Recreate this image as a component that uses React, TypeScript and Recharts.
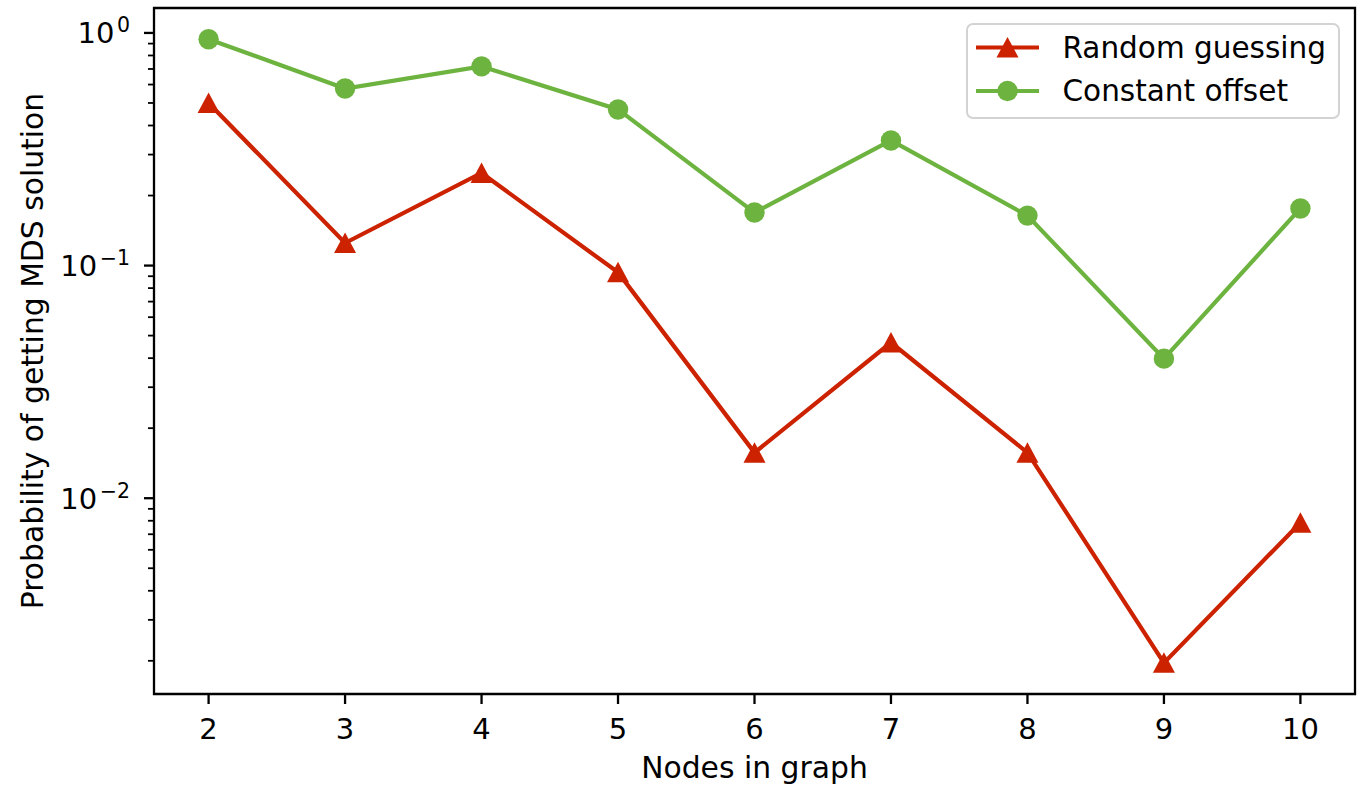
import React from 'react';
import { LineChart, Line, XAxis, YAxis, ReferenceArea, Legend } from 'recharts';

// values
const nodes = [2, 3, 4, 5, 6, 7, 8, 9, 10];
const randomGuessing = [0.5, 0.125, 0.25, 0.0935, 0.0157, 0.0467, 0.0157, 0.00196, 0.00785];
const constantOffset = [0.94, 0.577, 0.718, 0.469, 0.169, 0.345, 0.164, 0.0398, 0.176];

const xTicks = [2, 3, 4, 5, 6, 7, 8, 9, 10];
const yMajorTicks = [0.01, 0.1, 1];
const yMinorTicks = [
  0.002, 0.003, 0.004, 0.005, 0.006, 0.007, 0.008, 0.009,
  0.02, 0.03, 0.04, 0.05, 0.06, 0.07, 0.08, 0.09,
  0.2, 0.3, 0.4, 0.5, 0.6, 0.7, 0.8, 0.9,
];
const xDomain = [1.6, 10.4];
const yDomain = [0.00144, 1.28];

const RED = '#cc2200';
const GREEN = '#6db33f';
const FONT = '"DejaVu Sans", sans-serif';
const legendOrder = ['random', 'offset'];

const data = nodes.map((n, i) => ({
  nodes: n,
  random: randomGuessing[i],
  offset: constantOffset[i],
}));

const triangle = (cx: number, cy: number, color: string, key?: any) => (
  <polygon
    key={key}
    points={`${cx},${cy - 10.5} ${cx - 11},${cy + 10} ${cx + 11},${cy + 10}`}
    fill={color}
  />
);

const TriangleDot = (props: any) => {
  const { cx, cy, index } = props;
  if (cx == null || cy == null) return <g key={`t-${index}`} />;
  return triangle(cx, cy, RED, `t-${index}`);
};

const CircleDot = (props: any) => {
  const { cx, cy, index } = props;
  if (cx == null || cy == null) return <g key={`c-${index}`} />;
  return <circle key={`c-${index}`} cx={cx} cy={cy} r={10.2} fill={GREEN} />;
};

const YTick = (props: any) => {
  const { x, y, payload } = props;
  const v = payload.value;
  const major = yMajorTicks.includes(v);
  if (!major) {
    return <line x1={x - 6} x2={x} y1={y} y2={y} stroke="#000" strokeWidth={1.8} />;
  }
  const exp = Math.round(Math.log10(v));
  const sup = exp < 0 ? `\u2212${-exp}` : `${exp}`;
  return (
    <g>
      <line x1={x - 10} x2={x} y1={y} y2={y} stroke="#000" strokeWidth={2.3} />
      <text x={x - 24} y={y + 10.5} textAnchor="end" fontSize={29} fontFamily={FONT} fill="#000">
        <tspan>10</tspan>
        <tspan dx={2.5} dy={-11} fontSize={20.5}>{sup}</tspan>
      </text>
    </g>
  );
};

const XTick = (props: any) => {
  const { x, y, payload } = props;
  return (
    <g>
      <line x1={x} x2={x} y1={y} y2={y + 10} stroke="#000" strokeWidth={2.3} />
      <text x={x} y={y + 45} textAnchor="middle" fontSize={29} fontFamily={FONT} fill="#000">
        {payload.value}
      </text>
    </g>
  );
};

const LegendBox = (props: any) => {
  const items = [...(props.payload || [])].sort(
    (a: any, b: any) => legendOrder.indexOf(a.dataKey) - legendOrder.indexOf(b.dataKey)
  );
  return (
    <svg width={374} height={96} style={{ display: 'block' }}>
      <rect x={1} y={1} width={372} height={94} rx={6} ry={6} fill="#fff" stroke="#d3d3d3" strokeWidth={2} />
      {items.map((item: any, i: number) => {
        const cy = 24.5 + i * 43.5;
        const color = item.color;
        return (
          <g key={item.value}>
            <line x1={10} x2={73} y1={cy} y2={cy} stroke={color} strokeWidth={4.2} />
            {item.dataKey === 'random'
              ? triangle(41.5, cy, color)
              : <circle cx={41.5} cy={cy} r={10.2} fill={color} />}
            <text x={96.5} y={cy + 10} fontSize={29.5} fontFamily={FONT} fill="#000">
              {item.value}
            </text>
          </g>
        );
      })}
    </svg>
  );
};

export default function App() {
  return (
    <div style={{ position: 'absolute', left: 0, top: 0, width: 1367, height: 786, background: '#fff' }}>
      <LineChart
        width={1367}
        height={786}
        data={data}
        margin={{ top: 8, right: 12, bottom: 0, left: 0 }}
      >
        <XAxis
          dataKey="nodes"
          type="number"
          domain={xDomain}
          allowDataOverflow
          ticks={xTicks}
          interval={0}
          height={92}
          axisLine={false}
          tickLine={false}
          tickSize={0}
          tickMargin={0}
          tick={<XTick />}
          label={{
            content: (p: any) => {
              const vb = p.viewBox;
              return (
                <text x={vb.x + vb.width / 2} y={vb.y + 84} textAnchor="middle" fontSize={29.8} fontFamily={FONT} fill="#000">
                  Nodes in graph
                </text>
              );
            },
          }}
        />
        <YAxis
          type="number"
          scale="log"
          domain={yDomain}
          allowDataOverflow
          ticks={[...yMajorTicks, ...yMinorTicks]}
          interval={0}
          width={154}
          axisLine={false}
          tickLine={false}
          tickSize={0}
          tickMargin={0}
          tick={<YTick />}
          label={{
            content: (p: any) => {
              const vb = p.viewBox;
              const cx = vb.x + 43;
              const cy = vb.y + vb.height / 2;
              return (
                <text
                  x={cx}
                  y={cy}
                  transform={`rotate(-90 ${cx} ${cy})`}
                  textAnchor="middle"
                  fontSize={29.8}
                  fontFamily={FONT}
                  fill="#000"
                >
                  Probability of getting MDS solution
                </text>
              );
            },
          }}
        />
        <Line
          dataKey="random"
          name="Random guessing"
          stroke={RED}
          strokeWidth={4.2}
          dot={TriangleDot}
          activeDot={false}
          isAnimationActive={false}
        />
        <Line
          dataKey="offset"
          name="Constant offset"
          stroke={GREEN}
          strokeWidth={4.2}
          dot={CircleDot}
          activeDot={false}
          isAnimationActive={false}
        />
        <ReferenceArea
          x1={xDomain[0]}
          x2={xDomain[1]}
          y1={yDomain[0]}
          y2={yDomain[1]}
          fill="none"
          stroke="#000"
          strokeWidth={2.3}
          ifOverflow="visible"
        />
        <Legend
          layout="vertical"
          align="center"
          verticalAlign="middle"
          content={<LegendBox />}
          wrapperStyle={{ left: 966, top: 23, width: 374, height: 96 }}
        />
      </LineChart>
    </div>
  );
}
